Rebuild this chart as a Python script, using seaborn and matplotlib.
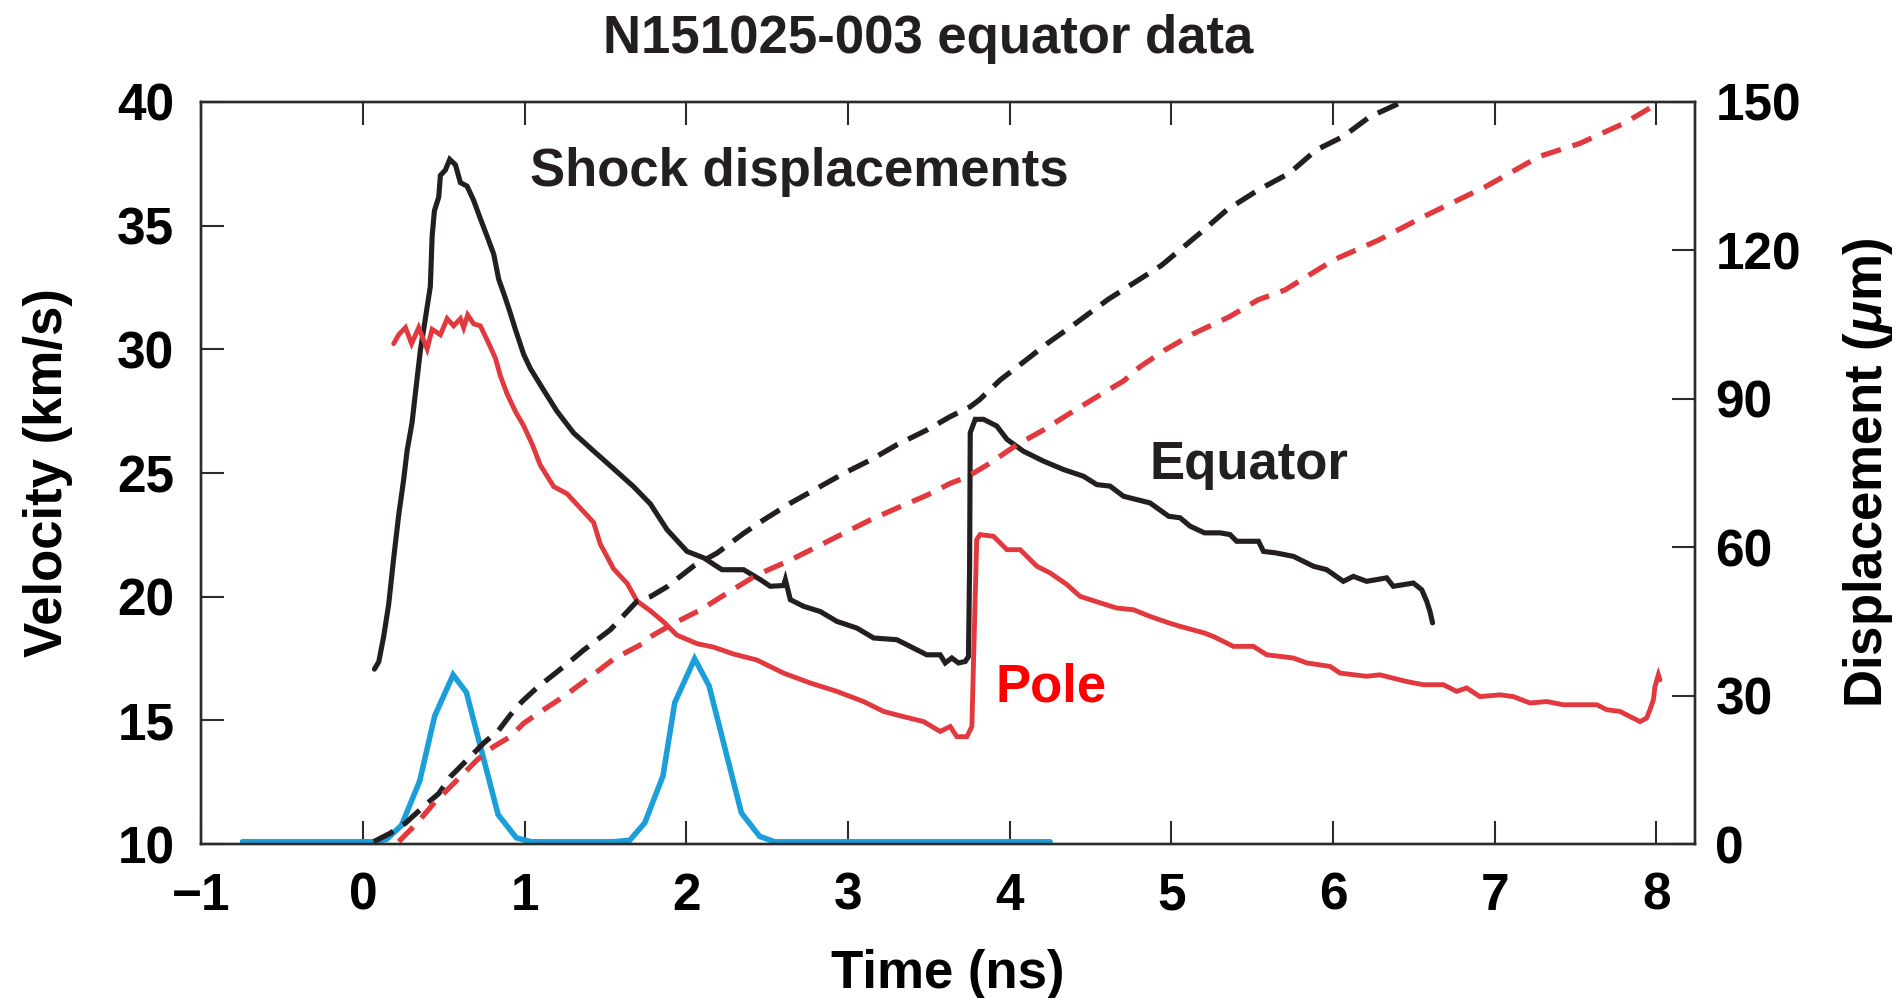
import matplotlib
matplotlib.use("Agg")
import matplotlib.pyplot as plt
import seaborn as sns

# ---------------- data ----------------
eq_vel_t = [0.07, 0.097, 0.127, 0.158, 0.189, 0.22, 0.251, 0.272, 0.303, 0.323, 0.354, 0.385,
            0.416, 0.427, 0.441, 0.468, 0.478, 0.509, 0.536, 0.571, 0.602, 0.643, 0.684, 0.725,
            0.767, 0.808, 0.839, 0.87, 0.90, 0.942, 0.993, 1.035, 1.117, 1.2, 1.302, 1.426,
            1.55, 1.673, 1.777, 1.88, 2.004, 2.107, 2.22, 2.354, 2.457, 2.519, 2.601, 2.612,
            2.643, 2.725, 2.828, 2.931, 3.055, 3.158, 3.302, 3.405, 3.487, 3.57, 3.601, 3.642,
            3.683, 3.725, 3.745, 3.752, 3.756, 3.787, 3.838, 3.92, 3.983, 4.085, 4.209, 4.333,
            4.456, 4.539, 4.621, 4.704, 4.868, 4.984, 5.054, 5.116, 5.205, 5.302, 5.363, 5.404,
            5.539, 5.57, 5.646, 5.755, 5.879, 5.961, 6.064, 6.126, 6.208, 6.332, 6.373, 6.497,
            6.549, 6.58, 6.6, 6.616]
eq_vel_v = [17.07, 17.37, 18.38, 19.68, 21.55, 23.29, 24.74, 25.89, 27.05, 28.2, 29.94, 31.24,
            32.55, 34.57, 35.6, 36.16, 37.03, 37.25, 37.68, 37.46, 36.74, 36.6, 36.02, 35.29,
            34.57, 33.85, 32.83, 32.26, 31.68, 30.81, 29.8, 29.22, 28.35, 27.49, 26.62, 25.89,
            25.17, 24.45, 23.75, 22.71, 21.83, 21.57, 21.09, 21.09, 20.69, 20.42, 20.45, 20.69,
            19.88, 19.61, 19.40, 19.0, 18.73, 18.33, 18.26, 17.92, 17.65, 17.65, 17.32, 17.52,
            17.32, 17.38, 17.58, 21.23, 26.63, 27.17, 27.17, 26.9, 26.36, 25.88, 25.48, 25.14,
            24.87, 24.53, 24.47, 24.06, 23.79, 23.25, 23.19, 22.85, 22.58, 22.58, 22.51, 22.24,
            22.24, 21.83, 21.77, 21.63, 21.23, 21.09, 20.62, 20.82, 20.62, 20.76, 20.42, 20.55,
            20.28, 19.81, 19.4, 18.94]

pole_vel_t = [0.189, 0.22, 0.262, 0.30, 0.344, 0.396, 0.427, 0.478, 0.52, 0.56, 0.602, 0.622,
              0.647, 0.684, 0.725, 0.767, 0.818, 0.849, 0.89, 0.942, 0.993, 1.045, 1.096, 1.179,
              1.262, 1.344, 1.426, 1.467, 1.55, 1.633, 1.695, 1.777, 1.859, 1.94, 2.066, 2.168,
              2.292, 2.436, 2.601, 2.766, 2.931, 3.096, 3.22, 3.343, 3.467, 3.57, 3.632, 3.673,
              3.735, 3.766, 3.776, 3.796, 3.817, 3.9, 3.983, 4.065, 4.168, 4.25, 4.354, 4.436,
              4.56, 4.663, 4.766, 4.869, 4.984, 5.054, 5.205, 5.26, 5.384, 5.508, 5.59, 5.755,
              5.838, 5.982, 6.044, 6.208, 6.29, 6.455, 6.559, 6.683, 6.765, 6.827, 6.909, 7.033,
              7.116, 7.219, 7.322, 7.425, 7.529, 7.632, 7.694, 7.776, 7.838, 7.9, 7.94, 7.961,
              7.982, 7.992, 8.013, 8.023]
pole_vel_v = [30.23, 30.59, 30.88, 30.23, 30.88, 30.02, 30.81, 30.59, 31.24, 30.95, 31.24, 30.88,
              31.39, 31.03, 30.95, 30.38, 29.65, 28.93, 28.21, 27.49, 26.91, 26.18, 25.32, 24.45,
              24.16, 23.58, 23.0, 22.13, 21.12, 20.54, 19.82, 19.43, 18.98, 18.45, 18.1, 17.96,
              17.68, 17.44, 16.91, 16.51, 16.17, 15.76, 15.36, 15.15, 14.95, 14.55, 14.75, 14.34,
              14.34, 14.75, 17.32, 22.31, 22.51, 22.44, 21.9, 21.9, 21.23, 20.96, 20.49, 20.01,
              19.75, 19.54, 19.47, 19.2, 18.94, 18.8, 18.53, 18.39, 17.99, 17.99, 17.65, 17.52,
              17.32, 17.18, 16.91, 16.78, 16.84, 16.57, 16.44, 16.44, 16.17, 16.31, 15.96, 16.03,
              15.96, 15.7, 15.76, 15.63, 15.63, 15.63, 15.43, 15.36, 15.15, 14.95, 15.09, 15.43,
              15.83, 16.37, 16.84, 16.64]

eq_disp_t = [0.066, 0.169, 0.261, 0.396, 0.468, 0.54, 0.643, 0.746, 0.839, 0.911, 0.983, 1.076,
             1.2, 1.302, 1.364, 1.529, 1.695, 1.777, 1.88, 2.045, 2.189, 2.354, 2.477, 2.643,
             2.808, 2.972, 3.137, 3.302, 3.488, 3.632, 3.756, 3.813, 3.941, 4.1, 4.233, 4.41,
             4.609, 4.94, 5.178, 5.344, 5.537, 5.73, 5.896, 6.062, 6.227, 6.407]
eq_disp_d = [0.47, 2.2, 4.2, 8.2, 10.2, 13.6, 17.0, 20.4, 23.0, 26.1, 28.8, 31.6,
             34.8, 37.5, 39.2, 43.3, 49.1, 50.0, 52.0, 56.2, 58.8, 62.8, 65.5, 68.9,
             71.9, 74.9, 77.6, 80.7, 83.7, 86.4, 88.4, 89.8, 93.8, 97.8, 101.2, 105.3,
             110.1, 117.0, 123.5, 128.2, 132.2, 135.6, 140.3, 143.0, 147.0, 149.7]

pole_disp_t = [0.22, 0.333, 0.437, 0.519, 0.602, 0.705, 0.808, 0.911, 0.993, 1.096, 1.24, 1.406,
               1.55, 1.735, 1.777, 1.921, 2.086, 2.251, 2.436, 2.643, 2.808, 2.972, 3.137, 3.302,
               3.488, 3.632, 3.735, 3.859, 4.045, 4.209, 4.374, 4.539, 4.704, 4.807, 4.962, 5.139,
               5.36, 5.536, 5.703, 6.006, 6.283, 6.559, 6.945, 7.277, 7.525, 7.801, 8.008]
pole_disp_d = [0.47, 4.2, 8.2, 10.9, 13.6, 17.0, 19.7, 21.7, 24.4, 26.7, 29.8, 33.8,
               37.4, 40.6, 41.9, 44.6, 47.3, 50.7, 54.4, 57.4, 60.1, 62.8, 65.5, 67.9,
               70.5, 72.9, 74.2, 76.6, 80.7, 83.7, 87.1, 90.4, 93.6, 96.5, 99.9, 103.2,
               106.6, 110.0, 112.0, 118.1, 122.1, 126.8, 132.9, 139.0, 141.6, 145.7, 149.7]

pulse_t = [-0.746, 0.066, 0.145, 0.237, 0.35, 0.443, 0.557, 0.639, 0.835, 0.948, 1.04, 1.546,
           1.649, 1.742, 1.855, 1.928, 2.051, 2.14, 2.34, 2.453, 2.546, 4.25]
pulse_v = [10.09, 10.09, 10.19, 10.75, 12.55, 15.18, 16.84, 16.13, 11.19, 10.25, 10.09, 10.09,
           10.15, 10.85, 12.75, 15.72, 17.49, 16.4, 11.26, 10.31, 10.09, 10.09]

x_ticks = [-1, 0, 1, 2, 3, 4, 5, 6, 7, 8]
v_ticks = [10, 15, 20, 25, 30, 35, 40]
d_ticks = [0, 30, 60, 90, 120, 150]

title_text = "N151025-003 equator data"
x_label = "Time (ns)"
v_label = "Velocity (km/s)"
d_label = r"Displacement ($\mu$m)"

# ---------------- style ----------------
BLACK = "#231F20"
RED = "#E2393F"
BLUE = "#1B9FDB"
PURE_RED = "#FF0000"
AXC = "#2b2b2b"

sns.set_style("ticks")
plt.rcParams["font.family"] = ["Liberation Sans", "DejaVu Sans"]
plt.rcParams["font.weight"] = "bold"
plt.rcParams["mathtext.fontset"] = "custom"
plt.rcParams["mathtext.it"] = "Liberation Sans:italic:bold"
plt.rcParams["mathtext.rm"] = "Liberation Sans:bold"
plt.rcParams["mathtext.bf"] = "Liberation Sans:bold"

fig = plt.figure(figsize=(18.97, 9.98), dpi=100)
ax = fig.add_axes([0.1062, 0.1543, 0.7871, 0.7435])
ax2 = ax.twinx()

# velocity traces
sns.lineplot(x=pulse_t, y=pulse_v, ax=ax, color=BLUE, sort=False, estimator=None, legend=False)
sns.lineplot(x=eq_vel_t, y=eq_vel_v, ax=ax, color=BLACK, sort=False, estimator=None, legend=False)
sns.lineplot(x=pole_vel_t, y=pole_vel_v, ax=ax, color=RED, sort=False, estimator=None, legend=False)
for line, lw in zip(ax.lines, [4.0, 3.7, 3.5]):
    line.set_linewidth(lw)
    line.set_solid_joinstyle("miter")

# displacement traces
sns.lineplot(x=eq_disp_t, y=eq_disp_d, ax=ax2, color=BLACK, sort=False, estimator=None, legend=False)
sns.lineplot(x=pole_disp_t, y=pole_disp_d, ax=ax2, color=RED, sort=False, estimator=None, legend=False)
for line, dash in zip(ax2.lines, [(0, (4.2, 2.2)), (0, (3.9, 2.3))]):
    line.set_linewidth(3.8)
    line.set_linestyle(dash)

ax.set_xlim(-1, 8.237)
ax.set_ylim(10, 40)
ax2.set_ylim(0, 150)
ax.set_xticks(x_ticks)
ax.set_yticks(v_ticks)
ax2.set_yticks(d_ticks)

for a in (ax, ax2):
    for s in a.spines.values():
        s.set_linewidth(1.7)
        s.set_color(AXC)
        s.set_visible(True)

ax.tick_params(axis="both", direction="in", length=16.8, width=1.5, color=AXC,
               labelsize=37, labelcolor="black")
ax.tick_params(axis="x", top=True, bottom=True, pad=20)
ax.tick_params(axis="y", left=True, right=False, pad=19.5)
ax2.tick_params(axis="y", direction="in", length=16.8, width=1.5, color=AXC,
                labelsize=37, labelcolor="black", pad=15, right=True, left=False)

ax.set_xlabel(x_label, fontsize=38, fontweight="bold", color="black")
ax.xaxis.set_label_coords(0.5, -0.194)
ax.xaxis.label.set_va("baseline")

ax.set_ylabel(v_label, fontsize=38, fontweight="bold", color="black")
ax.yaxis.set_label_coords(-0.0931, 0.5)
ax.yaxis.label.set_va("baseline")

ax2.set_ylabel(d_label, fontsize=38, fontweight="bold", color="black", rotation=90)
ax2.yaxis.set_label_coords(1.1255, 0.5)
ax2.yaxis.label.set_va("baseline")

# annotations
ax.text(1.035, 36.6, "Shock displacements", ha="left", va="baseline",
        fontsize=38, fontweight="bold", color=BLACK)
ax.text(4.863, 24.74, "Equator", ha="left", va="baseline",
        fontsize=38, fontweight="bold", color=BLACK)
ax.text(3.91, 15.76, "Pole", ha="left", va="baseline",
        fontsize=38, fontweight="bold", color=PURE_RED)

fig.text(0.4895, 0.9472, title_text, ha="center", va="baseline",
         fontsize=38, fontweight="bold", color=BLACK)

fig.savefig("out.png", dpi=100)
